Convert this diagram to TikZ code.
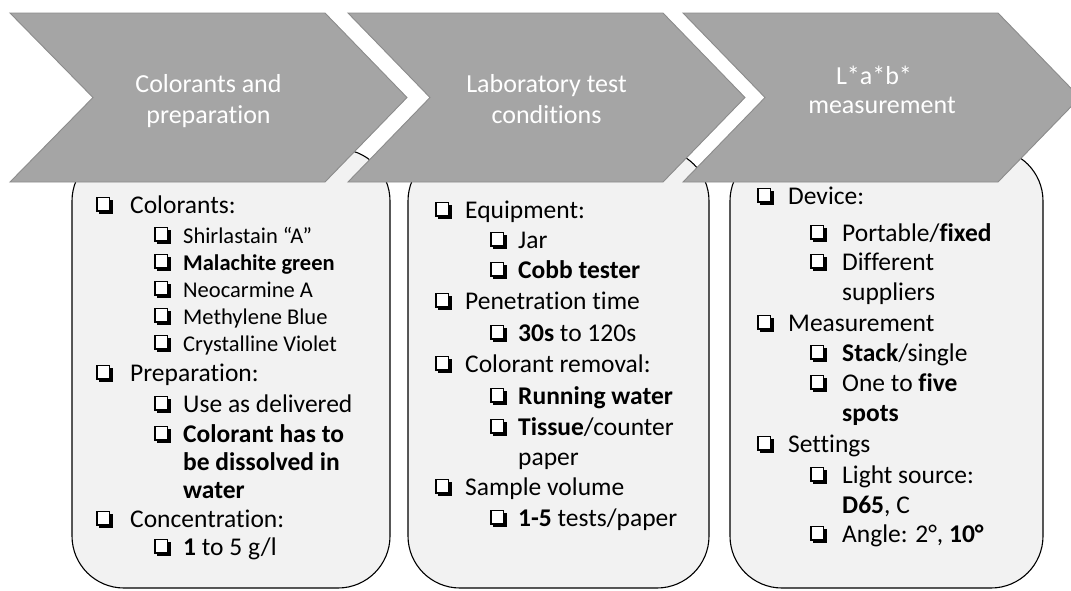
\documentclass[tikz,border=0pt]{standalone}
\usepackage{fontspec}
\setmainfont{Carlito}[Ligatures=NoCommon]
\definecolor{chevfill}{HTML}{A5A5A5}
\definecolor{chevline}{HTML}{8C8C8C}
\definecolor{boxfill}{HTML}{F2F2F2}
\newcommand{\chk}{\tikz[baseline=0pt]{\fill[black] (3.2pt,-1pt) rectangle (16.6pt,12.6pt);\filldraw[fill=white,draw=black,line width=1.3pt] (0.65pt,1.9pt) rectangle (13.4pt,15.6pt);}}
\newcommand{\ckm}[1]{\makebox[#1][l]{\chk}}
\tikzset{
  chev/.style={fill=chevfill, draw=chevline, line width=0.9pt, line join=miter},
  panel/.style={rectangle, fill=boxfill, draw=black, line width=1.1pt, rounded corners=52pt, inner sep=0pt},
  ctitle/.style={text=white, anchor=base, inner sep=0pt, font=\fontsize{26}{31}\selectfont},
  itm/.style={anchor=base west, inner sep=0pt, font=\fontsize{25.5}{30}\selectfont},
  sitm/.style={anchor=base west, inner sep=0pt, font=\fontsize{22.5}{27}\selectfont},
}
\begin{document}
\begin{tikzpicture}[x=1pt,y=-1pt]
\useasboundingbox (0,0) rectangle (1071,590);
\clip (0,0) rectangle (1071,590);
% panels
\node[panel, minimum width=318pt, minimum height=439pt] (p1) at (231,368.5) {};
\node[panel, minimum width=301pt, minimum height=439pt] (p2) at (558.5,368.5) {};
\node[panel, minimum width=313pt, minimum height=439pt] (p3) at (886.5,368.5) {};
% chevrons
\draw[chev] (10,13) -- (325,13) -- (407,97.5) -- (325,182) -- (10,182) -- (93,97.5) -- cycle;
\draw[chev] (348,13) -- (663,13) -- (745,97.5) -- (663,182) -- (348,182) -- (430,97.5) -- cycle;
\draw[chev] (683,13) -- (998,13) -- (1080,97.5) -- (998,182) -- (683,182) -- (765,97.5) -- cycle;
% chevron titles
\node[ctitle] (t1a) at (208.5,92) {Colorants and};
\node[ctitle] (t1b) at (208.5,123) {preparation};
\node[ctitle] (t2a) at (546.5,92) {Laboratory test};
\node[ctitle] (t2b) at (546.5,123) {conditions};
\node[ctitle] (t3a) at (874,84) {L*a*b*};
\node[ctitle] (t3b) at (882,113) {measurement};
% panel 1
\node[itm]  (a1)  at (96,213)  {\ckm{34pt}Colorants:};
\node[sitm] (a2)  at (154,243) {\ckm{29pt}Shirlastain “A”};
\node[sitm] (a3)  at (154,270) {\ckm{29pt}\textbf{Malachite green}};
\node[sitm] (a4)  at (154,297) {\ckm{29pt}Neocarmine A};
\node[sitm] (a5)  at (154,324) {\ckm{29pt}Methylene Blue};
\node[sitm] (a6)  at (154,351) {\ckm{29pt}Crystalline Violet};
\node[itm]  (a7)  at (96,381)  {\ckm{34pt}Preparation:};
\node[itm]  (a8)  at (154,412) {\ckm{29pt}Use as delivered};
\node[itm]  (a9)  at (154,442) {\ckm{29pt}\textbf{Colorant has to}};
\node[itm]  (a10) at (183,470) {\textbf{be dissolved in}};
\node[itm]  (a11) at (183,498) {\textbf{water}};
\node[itm]  (a12) at (96,527)  {\ckm{34pt}Concentration:};
\node[itm]  (a13) at (154,555) {\ckm{29pt}\textbf{1} to 5 g/l};
% panel 2
\node[itm] (b1)  at (435,218) {\ckm{30pt}Equipment:};
\node[itm] (b2)  at (490,248) {\ckm{28pt}Jar};
\node[itm] (b3)  at (490,278) {\ckm{28pt}\textbf{Cobb tester}};
\node[itm] (b4)  at (435,309) {\ckm{30pt}Penetration time};
\node[itm] (b5)  at (490,341) {\ckm{28pt}\textbf{30s} to 120s};
\node[itm] (b6)  at (435,372) {\ckm{30pt}Colorant removal:};
\node[itm] (b7)  at (490,404) {\ckm{28pt}\textbf{Running water}};
\node[itm] (b8)  at (490,435) {\ckm{28pt}\textbf{Tissue}/counter};
\node[itm] (b9)  at (518,465) {paper};
\node[itm] (b10) at (435,495) {\ckm{30pt}Sample volume};
\node[itm] (b11) at (490,526) {\ckm{28pt}\textbf{1-5} tests/paper};
% panel 3
\node[itm] (c1)  at (757,204) {\ckm{31pt}Device:};
\node[itm] (c2)  at (810,241) {\ckm{32pt}Portable/\textbf{fixed}};
\node[itm] (c3)  at (810,270) {\ckm{32pt}Different};
\node[itm] (c4)  at (842,300) {suppliers};
\node[itm] (c5)  at (757,331) {\ckm{31pt}Measurement};
\node[itm] (c6)  at (810,361) {\ckm{32pt}\textbf{Stack}/single};
\node[itm] (c7)  at (810,391) {\ckm{32pt}One to \textbf{five}};
\node[itm] (c8)  at (842,421) {\textbf{spots}};
\node[itm] (c9)  at (757,452) {\ckm{31pt}Settings};
\node[itm] (c10) at (810,483) {\ckm{32pt}Light source:};
\node[itm] (c11) at (842,513) {\textbf{D65}, C};
\node[itm] (c12) at (810,542) {\ckm{32pt}Angle: 2°, \textbf{10°}};
\end{tikzpicture}
\end{document}
